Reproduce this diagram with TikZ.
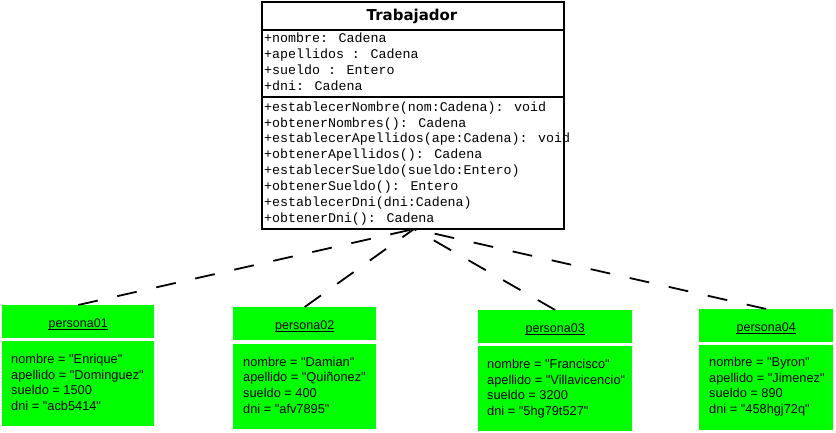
\documentclass[tikz,border=0pt]{standalone}
\usepackage{fontspec}
\usetikzlibrary{calc}
\newfontfamily\codefont{Liberation Mono}
\newfontfamily\objfont{Liberation Sans}
\newfontfamily\headfont{DejaVu Sans}
\definecolor{objgreen}{RGB}{0,255,0}
\begin{document}
\begin{tikzpicture}[x=1pt,y=-1pt,
  classbox/.style={draw=black,line width=1.6pt,fill=white,inner sep=0pt,anchor=north west},
  member/.style={anchor=base west,inner sep=0pt,font=\codefont\fontsize{13.3}{16}\selectfont},
  objhead/.style={fill=objgreen,draw=none,inner sep=0pt,anchor=north west,minimum height=33pt},
  objbody/.style={fill=objgreen,draw=none,inner sep=0pt,anchor=north west,minimum height=85pt},
  objname/.style={anchor=base,inner sep=0pt,font=\objfont\fontsize{12.5}{15}\selectfont},
  slot/.style={anchor=base west,inner sep=0pt,font=\objfont\fontsize{12.8}{15}\selectfont},
  dep/.style={draw=black,line width=1.8pt,dash pattern=on 20pt off 20pt}]
\fill[white] (0,0) rectangle (836,432);
\useasboundingbox (0,0) rectangle (836,432);

% class Trabajador
\node[classbox,minimum width=302pt,minimum height=227pt] (cls) at (261,1) {};
\draw[line width=1.6pt] (cls.west |- 0,30) -- (cls.east |- 0,30);
\draw[line width=1.6pt] (cls.west |- 0,97) -- (cls.east |- 0,97);
\node[anchor=base,inner sep=0pt,font=\headfont\bfseries\fontsize{15}{18}\selectfont] (title) at (412,20.5) {Trabajador};
\node[member] (a1) at (264,42) {+nombre: Cadena};
\node[member] (a2) at (264,58) {+apellidos : Cadena};
\node[member] (a3) at (264,74) {+sueldo : Entero};
\node[member] (a4) at (264,90) {+dni: Cadena};
\node[member] (m1) at (264,111) {+establecerNombre(nom:Cadena): void};
\node[member] (m2) at (264,127) {+obtenerNombres(): Cadena};
\node[member] (m3) at (264,142.5) {+establecerApellidos(ape:Cadena): void};
\node[member] (m4) at (264,158.5) {+obtenerApellidos(): Cadena};
\node[member] (m5) at (264,174.5) {+establecerSueldo(sueldo:Entero)};
\node[member] (m6) at (264,190.5) {+obtenerSueldo(): Entero};
\node[member] (m7) at (264,206) {+establecerDni(dni:Cadena)};
\node[member] (m8) at (264,222) {+obtenerDni(): Cadena};
\coordinate (hub) at (414,229);

% objects
\node[objhead,minimum width=152pt] (p1) at (2,305) {};
\node[objhead,minimum width=143pt] (p2) at (233,307) {};
\node[objhead,minimum width=154pt] (p3) at (478,310) {};
\node[objhead,minimum width=134pt] (p4) at (699,309) {};

% dependency connectors
\draw[dep] (p1.north) -- (hub);
\draw[dep] (p2.north) -- (hub);
\draw[dep] (p3.north) -- (hub);
\draw[dep] (p4.north) -- (hub);

\node[objbody,minimum width=152pt] (q1) at (2,341) {};
\node[objbody,minimum width=143pt] (q2) at (233,344) {};
\node[objbody,minimum width=154pt] (q3) at (478,346) {};
\node[objbody,minimum width=134pt] (q4) at (699,345) {};

\foreach \n/\lbl/\dx/\dy in {p1/persona01/0/22, p2/persona02/0/22, p3/persona03/0/22, p4/persona04/0/22}{
  \node[objname] (\n t) at ($(\n.north)+(\dx,\dy)$) {\lbl};
  \draw[line width=0.9pt] ($(\n t.base west)+(0,2.6)$) -- ($(\n t.base east)+(0,2.6)$);
}

\node[slot] (s11) at (11,363.5) {nombre = "Enrique"};
\node[slot] (s12) at (11,379) {apellido = "Dominguez"};
\node[slot] (s13) at (11,394.5) {sueldo = 1500};
\node[slot] (s14) at (11,410.5) {dni = "acb5414"};

\node[slot] (s21) at (243,366) {nombre = "Damian"};
\node[slot] (s22) at (243,381.5) {apellido = "Quiñonez"};
\node[slot] (s23) at (243,397) {sueldo = 400};
\node[slot] (s24) at (243,413) {dni = "afv7895"};

\node[slot] (s31) at (487,368.5) {nombre = "Francisco"};
\node[slot] (s32) at (487,384) {apellido = "Villavicencio"};
\node[slot] (s33) at (487,399.5) {sueldo = 3200};
\node[slot] (s34) at (487,415.5) {dni = "5hg79t527"};

\node[slot] (s41) at (709,366.5) {nombre = "Byron"};
\node[slot] (s42) at (709,382) {apellido = "Jimenez"};
\node[slot] (s43) at (709,397.5) {sueldo = 890};
\node[slot] (s44) at (709,413.5) {dni = "458hgj72q"};
\end{tikzpicture}
\end{document}
